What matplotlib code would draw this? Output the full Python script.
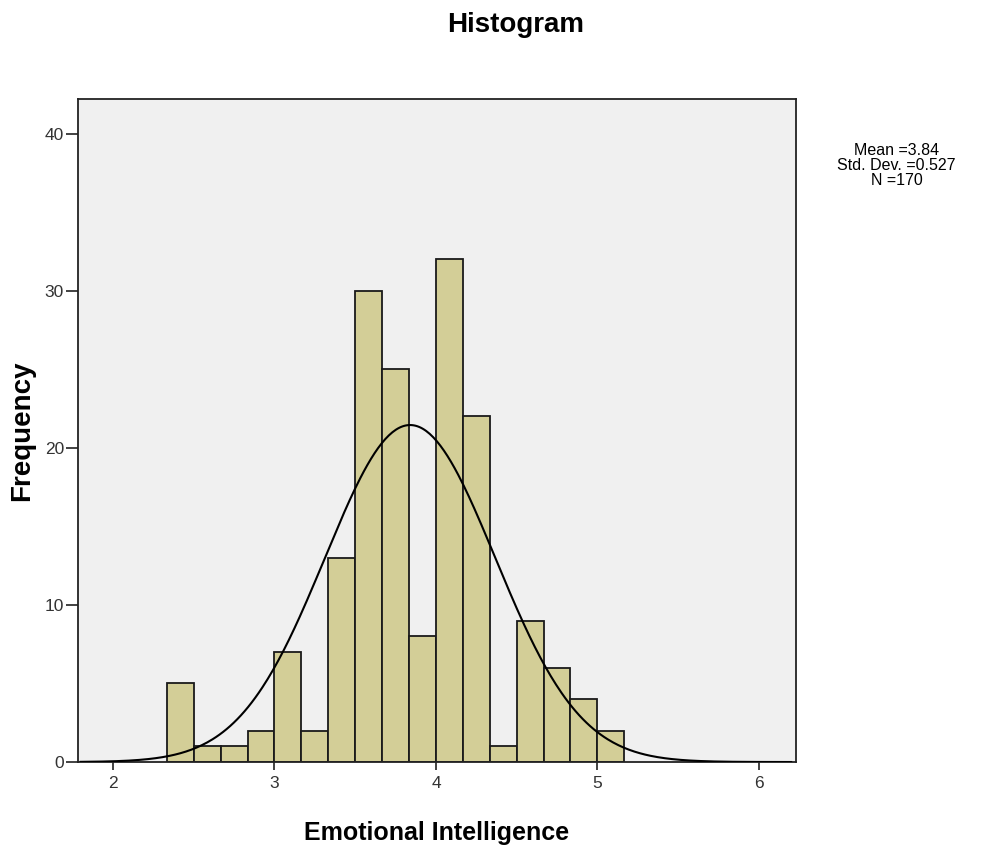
import numpy as np
import matplotlib
matplotlib.use("Agg")
import matplotlib.pyplot as plt

plt.rcParams['font.family'] = ['Liberation Sans', 'DejaVu Sans']

bin_edges = 2 + 1/3 + np.arange(18) / 6
counts = [5, 1, 1, 2, 7, 2, 13, 30, 25, 8, 32, 22, 1, 9, 6, 4, 2]
mean, sd, n = 3.84, 0.527, 170

x_ticks = [2, 3, 4, 5, 6]
y_ticks = [0, 10, 20, 30, 40]

fig = plt.figure(figsize=(9.96, 8.52), dpi=100)
ax = fig.add_axes([0.0783, 0.1056, 0.7209, 0.7782])
ax.set_facecolor('#f0f0f0')

widths = np.diff(bin_edges)
ax.bar(bin_edges[:-1], counts, width=widths, align='edge',
       color='#d3ce97', edgecolor='#1a1a1a', linewidth=1.3, zorder=2)

# Curva normal escalada a frecuencias
xs = np.linspace(1.8, 6.2, 400)
ys = n * widths[0] / (sd * np.sqrt(2 * np.pi)) * np.exp(-0.5 * ((xs - mean) / sd) ** 2)
ax.plot(xs, ys, color='black', linewidth=1.5, zorder=3)

ax.set_xlim(1.783, 6.23)
ax.set_ylim(0, 42.2)
ax.set_xticks(x_ticks)
ax.set_yticks(y_ticks)
ax.tick_params(direction='out', width=1.3, labelsize=12.5, colors='#333333')
ax.tick_params(axis='x', length=6, pad=4)
ax.tick_params(axis='y', length=8.5, pad=1.5)
for s in ax.spines.values():
    s.set_linewidth(1.3)
    s.set_color('#222222')

ax.set_xlabel('Emotional Intelligence', fontsize=18, fontweight='bold', va='center')
ax.xaxis.set_label_coords(0.5, -0.107)
ax.set_ylabel('Frequency', fontsize=20, fontweight='bold', va='center')
ax.yaxis.set_label_coords(-0.078, 0.5)
fig.text(0.518, 0.971, 'Histogram', ha='center', va='center', fontsize=20, fontweight='bold')

fig.text(0.9, 0.806, f'Mean ={mean}\nStd. Dev. ={sd}\nN ={n}', ha='center', va='center',
         fontsize=11.5, linespacing=1.0)

fig.savefig('out.png', dpi=100)
